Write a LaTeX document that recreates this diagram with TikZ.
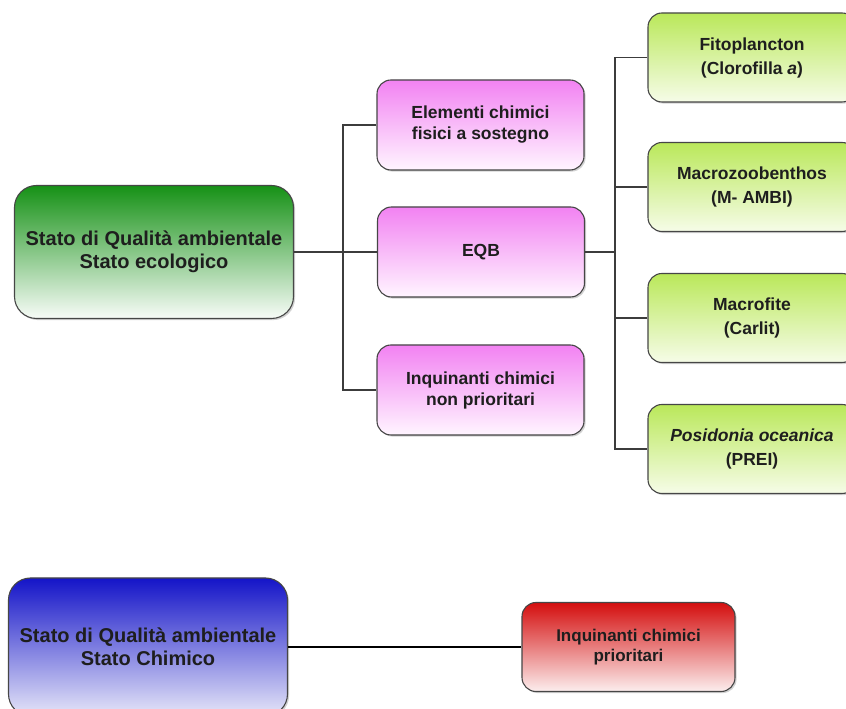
\documentclass[tikz,border=0pt]{standalone}
\usepackage{fontspec}
\setmainfont{Liberation Sans}
\usetikzlibrary{shadows}

\begin{document}
\begin{tikzpicture}[x=1pt,y=1pt,
  box/.style={draw=borderColor,line width=1.1pt,rounded corners=14pt,
    align=center,text=textColor,inner sep=0pt,
    drop shadow={shadow xshift=1.6pt,shadow yshift=-1.6pt,opacity=0.35}},
  mainbox/.style={box,rounded corners=22pt,minimum width=279,
    font=\fontsize{20}{23}\selectfont\bfseries},
  pinkbox/.style={box,top color=pinkTop,bottom color=pinkBot,minimum width=207,
    minimum height=90,font=\fontsize{17.5}{21}\selectfont\bfseries},
  limebox/.style={box,top color=limeTop,bottom color=limeBot,minimum width=208,
    minimum height=89,font=\fontsize{17.5}{24}\selectfont\bfseries},
  link/.style={draw=lineColor,line width=1.1pt}]
\definecolor{borderColor}{RGB}{70,70,70}
\definecolor{lineColor}{RGB}{60,60,60}
\definecolor{textColor}{RGB}{30,30,30}
\definecolor{greenTop}{RGB}{22,145,22}
\definecolor{greenBot}{RGB}{248,252,248}
\definecolor{pinkTop}{RGB}{242,130,242}
\definecolor{pinkBot}{RGB}{255,245,255}
\definecolor{limeTop}{RGB}{186,232,90}
\definecolor{limeBot}{RGB}{246,252,232}
\definecolor{blueTop}{RGB}{20,20,200}
\definecolor{blueBot}{RGB}{230,230,248}
\definecolor{redTop}{RGB}{212,14,14}
\definecolor{redBot}{RGB}{252,238,238}
\path[use as bounding box,fill=white] (0,0) rectangle (846,709);
\begin{scope}
\path[clip] (0,0) rectangle (846,709);

% ecological status
\node[mainbox,top color=greenTop,bottom color=greenBot,minimum height=133] (eco) at (154,457)
  {Stato di Qualità ambientale\\Stato ecologico};

\node[pinkbox] (elem) at (480.5,584) {Elementi chimici\\fisici a sostegno};
\node[pinkbox] (eqb) at (481,457) {EQB};
\node[pinkbox] (inqnp) at (480.5,319) {Inquinanti chimici\\non prioritari};

\node[limebox] (fito) at (752,651.5) {Fitoplancton\\(Clorofilla \textit{a})};
\node[limebox] (macrozoo) at (752,522) {Macrozoobenthos\\(M- AMBI)};
\node[limebox] (macrofite) at (752,391) {Macrofite\\(Carlit)};
\node[limebox] (posid) at (752,260) {\textit{Posidonia oceanica}\\(PREI)};

\coordinate (ecoJ) at (343,457);
\coordinate (eqbJ) at (615,457);

\path[link] (eco.east) -- (eqb.west);
\path[link] (elem.west) -| (ecoJ) |- (inqnp.west);
\path[link] (eqb.east) -- (eqbJ);
\path[link] (fito.west) -| (eqbJ) |- (posid.west);
\path[link] (macrozoo.west) -- (macrozoo.west -| eqbJ);
\path[link] (macrofite.west) -- (macrofite.west -| eqbJ);

% chemical status
\node[mainbox,top color=blueTop,bottom color=blueBot,minimum height=138] (chem) at (148,62)
  {Stato di Qualità ambientale\\Stato Chimico};
\node[box,top color=redTop,bottom color=redBot,minimum width=213,minimum height=89,
  font=\fontsize{17}{20}\selectfont\bfseries] (prio) at (628.5,62) {Inquinanti chimici\\prioritari};

\path[draw=black,line width=1.1pt] (chem.east) -- (prio.west);
\end{scope}
\end{tikzpicture}
\end{document}
